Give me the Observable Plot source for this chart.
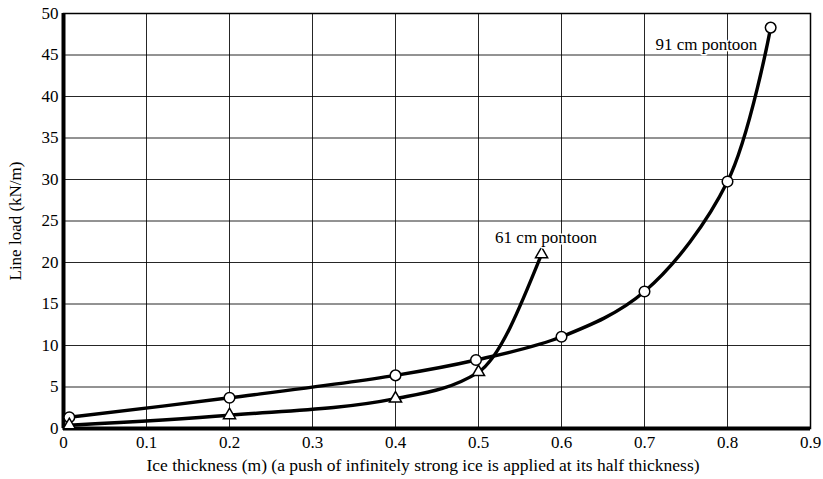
<!DOCTYPE html>
<html>
<head>
<meta charset="utf-8">
<script src="https://cdn.jsdelivr.net/npm/d3@7"></script>
<script src="https://cdn.jsdelivr.net/npm/@observablehq/plot@0.6"></script>
<style>
  html, body { margin: 0; padding: 0; background: #fff; }
  #chart svg { display: block; }
</style>
</head>
<body>
<div id="chart"></div>
<script>
// ---- data ----
const thick91 = [0.007, 0.2, 0.4, 0.497, 0.6, 0.7, 0.8, 0.852];
const load91  = [1.35, 3.7, 6.4, 8.25, 11.05, 16.5, 29.75, 48.3];
const thick61 = [0.007, 0.2, 0.4, 0.5, 0.576];
const load61  = [0.4, 1.6, 3.6, 6.8, 21.0];
const xTicks = [0, 0.1, 0.2, 0.3, 0.4, 0.5, 0.6, 0.7, 0.8, 0.9];
const xTickLabels = ["0", "0.1", "0.2", "0.3", "0.4", "0.5", "0.6", "0.7", "0.8", "0.9"];
const yTicks = [0, 5, 10, 15, 20, 25, 30, 35, 40, 45, 50];
const yTickLabels = ["0", "5", "10", "15", "20", "25", "30", "35", "40", "45", "50"];
const seriesNames = ["91 cm pontoon", "61 cm pontoon"];
const labelX = [0.836, 0.52];
const labelY = [46.3, 23.0];
const xTitle = "Ice thickness (m) (a push of infinitely strong ice is applied at its half thickness)";
const yTitle = "Line load (kN/m)";

const s91 = thick91.map((x, i) => ({x, y: load91[i]}));
const s61 = thick61.map((x, i) => ({x, y: load61[i]}));
const labels = seriesNames.map((t, i) => ({t, x: labelX[i], y: labelY[i]}));

const font = "'Liberation Serif', 'Times New Roman', serif";

const chart = Plot.plot({
  width: 823,
  height: 479,
  marginLeft: 63,
  marginRight: 13,
  marginTop: 13,
  marginBottom: 51,
  style: {fontFamily: font, fontSize: "17px", color: "#000", background: "#fff"},
  x: {domain: [0, 0.9]},
  y: {domain: [0, 50]},
  marks: [
    Plot.gridX(xTicks, {stroke: "#000", strokeOpacity: 0.85, strokeWidth: 1}),
    Plot.gridY(yTicks, {stroke: "#000", strokeOpacity: 0.85, strokeWidth: 1}),
    Plot.frame({stroke: "#000", strokeWidth: 1.5}),
    Plot.axisX({ticks: xTicks, tickSize: 0, tickPadding: 7, tickFormat: (d, i) => xTickLabels[i],
      label: null, fontSize: 17}),
    Plot.axisY({ticks: yTicks, tickSize: 0, tickPadding: 5, tickFormat: (d, i) => yTickLabels[i],
      label: yTitle, labelAnchor: "center", labelArrow: "none", labelOffset: 55, fontSize: 17}),
    Plot.text([xTitle], {text: d => d, frameAnchor: "bottom", dy: 42, dx: -14, fontSize: 17.5, fill: "#000"}),
    Plot.line(s91, {x: "x", y: "y", curve: "catmull-rom", stroke: "#000", strokeWidth: 3.4}),
    Plot.line(s61, {x: "x", y: "y", curve: "monotone-x", stroke: "#000", strokeWidth: 3.4}),
    Plot.ruleX([0], {stroke: "#000", strokeWidth: 4}),
    Plot.ruleY([0], {stroke: "#000", strokeWidth: 4}),
    Plot.dot(s91, {x: "x", y: "y", r: 5.3, fill: "#fff", stroke: "#000", strokeWidth: 1.5}),
    Plot.dot(s61, {x: "x", y: "y", r: 4.5, symbol: "triangle", fill: "#fff", stroke: "#000", strokeWidth: 1.5}),
    Plot.text(labels.slice(0, 1), {x: "x", y: "y", text: "t", textAnchor: "end", fontSize: 17, fill: "#000", stroke: "#fff", strokeWidth: 3}),
    Plot.text(labels.slice(1), {x: "x", y: "y", text: "t", textAnchor: "start", fontSize: 17, fill: "#000", stroke: "#fff", strokeWidth: 3})
  ]
});
document.getElementById("chart").appendChild(chart);
</script>
</body>
</html>
